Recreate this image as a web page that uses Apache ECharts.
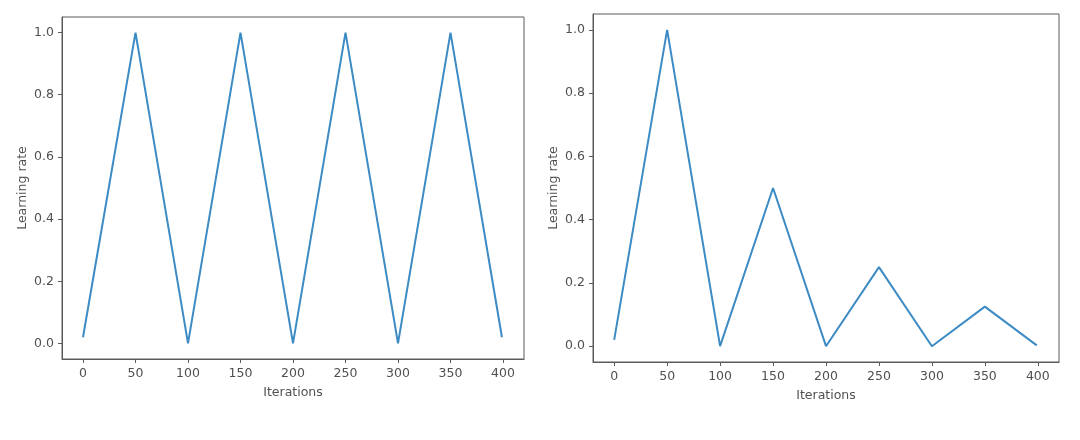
<!DOCTYPE html>
<html>
<head>
<meta charset="utf-8">
<script src="https://cdn.jsdelivr.net/npm/echarts@6/dist/echarts.min.js"></script>
<style>
  html, body { margin: 0; padding: 0; background: #fff; }
  #chart { width: 1080px; height: 440px; }
</style>
</head>
<body>
<div id="chart"></div>
<script>
// data
const iterations = [0, 50, 100, 150, 200, 250, 300, 350, 399];
const triangularLR = [0.02, 1.0, 0.0, 1.0, 0.0, 1.0, 0.0, 1.0, 0.02];
const triangular2LR = [0.02, 1.0, 0.0, 0.5, 0.0, 0.25, 0.0, 0.125, 0.0025];
const xTicks = [0, 50, 100, 150, 200, 250, 300, 350, 400];
const yTicks = [0.0, 0.2, 0.4, 0.6, 0.8, 1.0];

const textColor = '#505050';
const axisColor = '#5a5a5a';
const lineColor = '#3d8bc4';
const font = 'DejaVu Sans';

function toPoints(xs, ys) {
    return xs.map((x, i) => [x, ys[i]]);
}

function makeX(gridIndex) {
    return {
        type: 'value', gridIndex: gridIndex,
        min: -20, max: 420,
        name: 'Iterations', nameLocation: 'middle', nameGap: 27,
        nameTextStyle: { color: textColor, fontFamily: font, fontSize: 12.5 },
        axisLine: { show: true, onZero: false, lineStyle: { color: axisColor, width: 1 } },
        axisTick: { show: true, inside: false, length: 4, customValues: xTicks,
                    lineStyle: { color: axisColor } },
        axisLabel: { customValues: xTicks, margin: 8, color: textColor,
                     fontFamily: font, fontSize: 12.5 },
        splitLine: { show: false }
    };
}

function makeY(gridIndex) {
    return {
        type: 'value', gridIndex: gridIndex,
        min: -0.05, max: 1.05,
        name: 'Learning rate', nameLocation: 'middle', nameGap: 33,
        nameTextStyle: { color: textColor, fontFamily: font, fontSize: 12.5 },
        axisLine: { show: true, onZero: false, lineStyle: { color: axisColor, width: 1 } },
        axisTick: { show: true, inside: false, length: 4, customValues: yTicks,
                    lineStyle: { color: axisColor } },
        axisLabel: { customValues: yTicks, margin: 8, color: textColor,
                     fontFamily: font, fontSize: 12.5,
                     formatter: v => v.toFixed(1) },
        splitLine: { show: false }
    };
}

function makeLine(idx, ys) {
    return {
        type: 'line', xAxisIndex: idx, yAxisIndex: idx,
        data: toPoints(iterations, ys),
        showSymbol: false, symbol: 'none',
        lineStyle: { color: lineColor, width: 2 },
        animation: false
    };
}

const chart = echarts.init(document.getElementById('chart'), null, { renderer: 'canvas' });
chart.setOption({
    backgroundColor: '#fff',
    animation: false,
    grid: [
        { left: 62, top: 17, width: 462, height: 342, show: true,
          borderColor: axisColor, borderWidth: 1, containLabel: false },
        { left: 593, top: 14, width: 466, height: 348, show: true,
          borderColor: axisColor, borderWidth: 1, containLabel: false }
    ],
    xAxis: [makeX(0), makeX(1)],
    yAxis: [makeY(0), makeY(1)],
    series: [makeLine(0, triangularLR), makeLine(1, triangular2LR)]
});
</script>
</body>
</html>
